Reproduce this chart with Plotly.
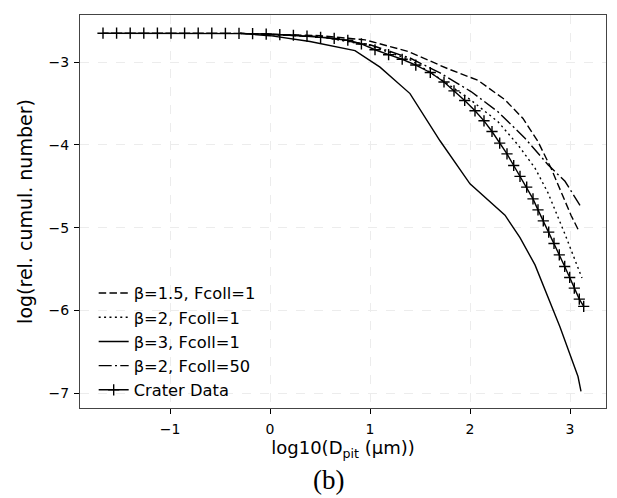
import plotly.graph_objects as go

# Crater data
crater_x = [-1.67, -1.534, -1.398, -1.262, -1.126, -0.99, -0.854, -0.718, -0.582, -0.446,
            -0.31, -0.174, -0.038, 0.098, 0.234, 0.37, 0.506, 0.642, 0.778, 0.914,
            1.05, 1.186, 1.322, 1.458, 1.603, 1.74, 1.84, 1.947, 2.05, 2.14,
            2.22, 2.297, 2.37, 2.437, 2.50, 2.567, 2.63, 2.68, 2.733, 2.787,
            2.84, 2.893, 2.947, 2.997, 3.043, 3.093, 3.137]
crater_y = [-2.65, -2.65, -2.65, -2.65, -2.65, -2.65, -2.65, -2.65, -2.65, -2.651,
            -2.652, -2.655, -2.66, -2.667, -2.675, -2.686, -2.70, -2.713, -2.735, -2.78,
            -2.85, -2.91, -2.965, -3.035, -3.125, -3.24, -3.347, -3.463, -3.588, -3.709,
            -3.838, -3.979, -4.108, -4.249, -4.381, -4.51, -4.652, -4.785, -4.918, -5.054,
            -5.191, -5.329, -5.469, -5.602, -5.731, -5.864, -5.952]

# Model: beta=1.5, Fcoll=1 (dashed)
b15_x = [-0.3, 0.5, 0.95, 1.38, 1.78, 2.08, 2.35, 2.53, 2.68, 2.81, 3.01, 3.08]
b15_y = [-2.652, -2.68, -2.73, -2.87, -3.08, -3.22, -3.455, -3.68, -3.96, -4.28, -4.85, -5.02]

# Model: beta=2, Fcoll=1 (dotted)
b2_x = [-0.3, 0.5, 1.0, 1.4, 1.7, 2.0, 2.28, 2.48, 2.65, 2.78, 2.95, 3.12]
b2_y = [-2.652, -2.69, -2.8, -2.97, -3.2, -3.45, -3.72, -4.0, -4.28, -4.58, -5.08, -5.61]

# Model: beta=3, Fcoll=1 (solid)
b3_x = [-0.3, 0.0, 0.4, 0.85, 1.1, 1.4, 1.7, 2.0, 2.35, 2.5, 2.65, 2.9, 3.08, 3.11]
b3_y = [-2.652, -2.68, -2.75, -2.86, -3.06, -3.38, -3.95, -4.47, -4.85, -5.12, -5.45, -6.2, -6.80, -6.98]

# Model: beta=2, Fcoll=50 (dash-dot)
b2f50_x = [-0.3, 0.5, 1.0, 1.4, 1.7, 2.01, 2.28, 2.55, 2.78, 2.95, 3.1]
b2f50_y = [-2.652, -2.69, -2.79, -2.95, -3.13, -3.355, -3.6, -3.92, -4.24, -4.44, -4.73]

x_ticks = [-1, 0, 1, 2, 3]
y_ticks = [-3, -4, -5, -6, -7]

FONT = "DejaVu Sans"
fig = go.Figure()

def add_line(x, y, name, dash):
    fig.add_trace(go.Scatter(x=x, y=y, mode="lines", name=name,
                             line=dict(color="black", width=1.4, dash=dash)))

add_line(b15_x, b15_y, "β=1.5, Fcoll=1", "7.5px,3.3px")
add_line(b2_x, b2_y, "β=2, Fcoll=1", "2px,3.4px")
add_line(b3_x, b3_y, "β=3, Fcoll=1", "solid")
add_line(b2f50_x, b2f50_y, "β=2, Fcoll=50", "13px,3.3px,2px,3.3px")
fig.add_trace(go.Scatter(x=crater_x, y=crater_y, mode="lines+markers", name="Crater Data",
                         line=dict(color="black", width=1.4),
                         marker=dict(symbol="cross-thin", size=8, color="black",
                                     line=dict(color="black", width=1.4))))

fig.update_layout(
    width=617, height=498,
    margin=dict(l=72, r=19, t=7, b=98),
    paper_bgcolor="white", plot_bgcolor="white",
    font=dict(family=FONT, size=14, color="black"),
    showlegend=True,
    legend=dict(x=0.026, y=0.336, xanchor="left", yanchor="top",
                bgcolor="rgba(0,0,0,0)", borderwidth=0,
                font=dict(family=FONT, size=16.3), tracegroupgap=0),
    xaxis=dict(range=[-1.90, 3.36], tickvals=x_ticks, ticks="outside", ticklen=5,
               tickwidth=1, tickcolor="black", showline=True, linecolor="#444444",
               linewidth=1.3, mirror=True, showgrid=True, gridcolor="#ececec",
               griddash="dash", zeroline=False, ticklabelstandoff=3,
               title=dict(text="log10(D<sub>pit</sub> (μm))", font=dict(size=18), standoff=5),
               tickfont=dict(size=14)),
    yaxis=dict(range=[-7.18, -2.43], tickvals=y_ticks, ticks="outside", ticklen=5,
               tickwidth=1, tickcolor="black", showline=True, linecolor="#444444",
               linewidth=1.3, mirror=True, showgrid=True, gridcolor="#ececec",
               griddash="dash", zeroline=False, ticklabelstandoff=2,
               title=dict(text="log(rel. cumul. number)", font=dict(size=19), standoff=10),
               tickfont=dict(size=14)),
)

fig.add_annotation(text="(b)", xref="paper", yref="paper", x=0.473, y=-0.183,
                   xanchor="center", yanchor="middle", showarrow=False,
                   font=dict(family="Liberation Serif", size=27, color="black"))

fig.write_html("out.html")
